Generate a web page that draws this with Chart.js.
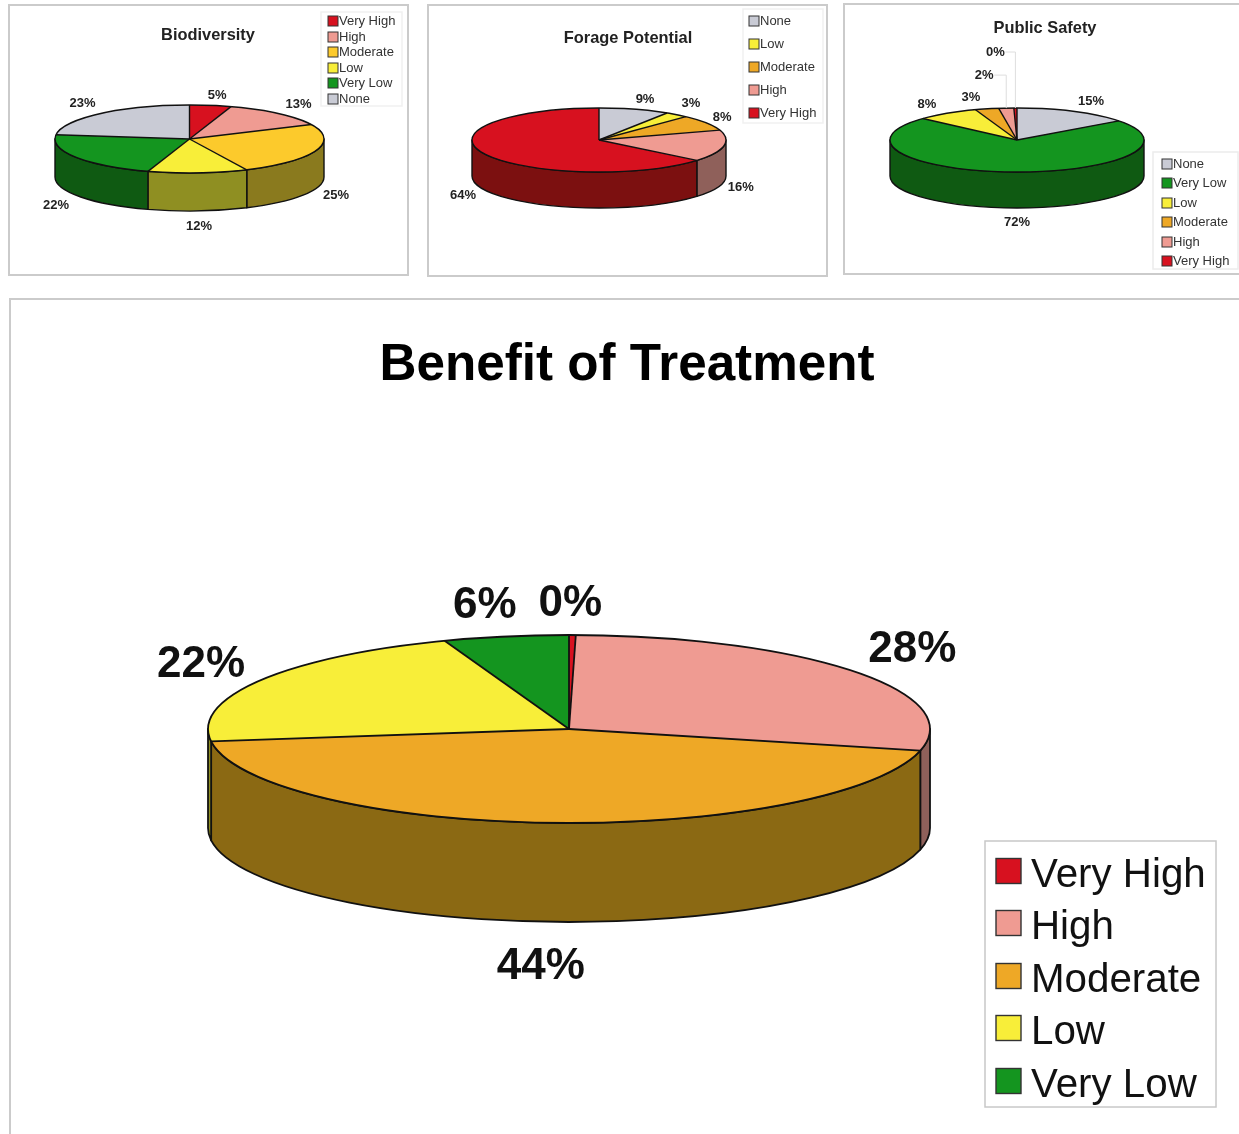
<!DOCTYPE html>
<html>
<head>
<meta charset="utf-8">
<script src="https://cdn.jsdelivr.net/npm/chart.js@4"></script>
<style>
html,body{margin:0;padding:0;background:#fff;width:1239px;height:1134px;overflow:hidden}
.panel{position:absolute;box-sizing:border-box;border:2px solid #cbcbcb;background:#fff}
canvas{position:absolute;left:-2px;top:-2px}
</style>
</head>
<body>
<script>
// ---- data ----
const bioLabels = ["Very High","High","Moderate","Low","Very Low","None"];
const bioValues = [5,13,25,12,22,23];
const forageLabels = ["None","Low","Moderate","High","Very High"];
const forageValues = [9,3,8,16,64];
const safetyLabels = ["None","Very Low","Low","Moderate","High","Very High"];
const safetyValues = [14.8,71.9,8,3,1.9,0.4];
const benefitLabels = ["Very High","High","Moderate","Low","Very Low"];
const benefitValues = [0.3,28.4,44.2,21.5,5.6];

// ---- styling ----
const TOP = {"Very High":"#d7111f","High":"#ef9b92","Moderate":"#eea826","Low":"#f8ee39","Very Low":"#14951f","None":"#c9cbd5"};
const WALL = {"Very High":"#7c1010","High":"#8f605a","Moderate":"#8b6913","Low":"#8f8f22","Very Low":"#0f5a12","None":"#6f7076"};
const BIO_TOP = {...TOP,"Moderate":"#fcca2c"};
const BIO_WALL = {...WALL,"Moderate":"#8a7a1e"};
const F = '"Liberation Sans", Arial, sans-serif';

const charts = [
 {labels:bioLabels,values:bioValues,top:BIO_TOP,wall:BIO_WALL,
  panel:[8,4,401,272],cx:189.5,cy:139,rx:134.5,ry:34,depth:38,line:1.4,
  title:{text:"Biodiversity",x:208,y:35,font:"bold 16.4px "+F,color:"#222"},
  labelFont:"bold 13px "+F,labelColor:"#222",labelDy:0,
  offsets:[[6.5,-10],[20,-9.5],[20,6.5],[1,15],[-20,10],[-18,-10.5]],
  legend:{box:[321,12,81,94],sx:328,size:10,tx:339,ys:[21,37,52,68,83,99],font:"13px "+F,color:"#333",border:"#f1f1f1",swLine:1,textDy:0}},
 {labels:forageLabels,values:forageValues,top:TOP,wall:WALL,
  panel:[427,4,401,273],cx:599,cy:140,rx:127,ry:32,depth:36,line:1.4,
  title:{text:"Forage Potential",x:628,y:38,font:"bold 16.4px "+F,color:"#222"},
  labelFont:"bold 13px "+F,labelColor:"#222",labelDy:0,
  offsets:[[10.6,-10],[14,-11],[16,-5],[17,5],[-21,6]],
  legend:{box:[743,9,80,114],sx:749,size:10,tx:760,ys:[21,44,67,90,113],font:"13px "+F,color:"#333",border:"#f1f1f1",swLine:1,textDy:0}},
 {labels:safetyLabels,values:safetyValues,top:TOP,wall:WALL,
  panel:[843,3,398,272],cx:1017,cy:140,rx:127,ry:32,depth:36,line:1.4,
  title:{text:"Public Safety",x:1045,y:28,font:"bold 16.4px "+F,color:"#222"},
  labelFont:"bold 13px "+F,labelColor:"#222",labelDy:0,
  offsets:[[17,-10],[6,14],[-20,-9],[-16,-11],[-22,-33],[-20,-56]],
  leaders:[4,5],
  legend:{box:[1153,152,85,117],sx:1162,size:10,tx:1173,ys:[164,183,203,222,242,261],font:"13px "+F,color:"#333",border:"#ececec",swLine:1,textDy:0}},
 {labels:benefitLabels,values:benefitValues,top:TOP,wall:WALL,
  panel:[9,298,1232,842],cx:569,cy:729,rx:361,ry:94,depth:99,line:1.8,
  title:{text:"Benefit of Treatment",x:627,y:366,font:"bold 51.2px "+F,color:"#000"},
  labelFont:"bold 44px "+F,labelColor:"#111",labelDy:2,
  offsets:[[-2,-33],[58,-24],[-10,43],[-59,-18],[-21,-33]],
  legend:{box:[985,841,231,266],sx:996,size:25,tx:1031,ys:[871,923,976,1028,1081],font:"40.3px "+F,color:"#111",border:"#c8c8c8",swLine:1.4,textDy:5}}
];

// ---- 3D look: flatten the arcs Chart.js lays out, add side walls, outlines, labels, legend ----
const pie3d = {
 id:"pie3d",
 beforeDatasetDraw(chart,args,o){
  const arcs = args.meta.data, ctx = chart.ctx, c = o.cfg;
  const k = c.ry/c.rx;
  const {x:cx,y:cy,outerRadius:R} = arcs[0];
  const ry = R*k;
  ctx.save();
  ctx.lineWidth = c.line; ctx.strokeStyle = "#111"; ctx.lineJoin = "round";
  arcs.forEach((a,i)=>{
   const s = Math.max(a.startAngle,0), e = Math.min(a.endAngle,Math.PI);
   if(e<=s) return;
   ctx.beginPath();
   ctx.ellipse(cx,cy,R,ry,0,s,e);
   ctx.ellipse(cx,cy+c.depth,R,ry,0,e,s,true);
   ctx.closePath();
   ctx.fillStyle = c.wall[c.labels[i]];
   ctx.fill(); ctx.stroke();
  });
  ctx.restore();
  ctx.save();
  ctx.translate(0,cy); ctx.scale(1,k); ctx.translate(0,-cy);
 },
 afterDatasetDraw(chart,args,o){
  const arcs = args.meta.data, ctx = chart.ctx, c = o.cfg;
  ctx.restore();
  const k = c.ry/c.rx;
  const {x:cx,y:cy,outerRadius:R} = arcs[0];
  const ry = R*k;
  ctx.save();
  ctx.lineWidth = c.line; ctx.strokeStyle = "#111";
  arcs.forEach(a=>{
   ctx.beginPath();
   ctx.moveTo(cx+R*Math.cos(a.startAngle),cy+ry*Math.sin(a.startAngle));
   ctx.lineTo(cx,cy);
   ctx.stroke();
  });
  ctx.beginPath(); ctx.ellipse(cx,cy,R,ry,0,0,Math.PI*2); ctx.stroke();
  ctx.restore();
 },
 afterDraw(chart,args,o){
  const c = o.cfg, ctx = chart.ctx, arcs = chart.getDatasetMeta(0).data;
  const ox = c.panel[0], oy = c.panel[1];
  const k = c.ry/c.rx;
  const {x:cx,y:cy,outerRadius:R} = arcs[0];
  const ry = R*k;
  ctx.save();
  // title
  ctx.textAlign="center"; ctx.textBaseline="middle";
  ctx.font=c.title.font; ctx.fillStyle=c.title.color;
  ctx.fillText(c.title.text,c.title.x-ox,c.title.y-oy);
  // percent labels
  ctx.font=c.labelFont; ctx.fillStyle=c.labelColor;
  arcs.forEach((a,i)=>{
   const m=(a.startAngle+a.endAngle)/2, sn=Math.sin(m);
   const px=cx+R*Math.cos(m), py=cy+ry*sn+(sn>0?c.depth:0);
   const lx=px+c.offsets[i][0], ly=py+c.offsets[i][1]+c.labelDy;
   if(c.leaders&&c.leaders.includes(i)){
    ctx.save();
    ctx.strokeStyle="#dedede"; ctx.lineWidth=1;
    ctx.beginPath();
    ctx.moveTo(lx+10,ly); ctx.lineTo(px,ly); ctx.lineTo(px,py);
    ctx.stroke();
    ctx.restore();
   }
   ctx.fillText(Math.round(c.values[i])+"%",lx,ly);
  });
  // legend
  const L=c.legend;
  ctx.fillStyle="#fff"; ctx.strokeStyle=L.border; ctx.lineWidth=1.5;
  ctx.fillRect(L.box[0]-ox,L.box[1]-oy,L.box[2],L.box[3]);
  ctx.strokeRect(L.box[0]-ox,L.box[1]-oy,L.box[2],L.box[3]);
  ctx.textAlign="left"; ctx.font=L.font;
  c.labels.forEach((lab,i)=>{
   const y=L.ys[i]-oy;
   ctx.fillStyle=c.top[lab]; ctx.strokeStyle="#333"; ctx.lineWidth=L.swLine;
   ctx.fillRect(L.sx-ox,y-L.size/2,L.size,L.size);
   ctx.strokeRect(L.sx-ox,y-L.size/2,L.size,L.size);
   ctx.fillStyle=L.color;
   ctx.fillText(lab,L.tx-ox,y+L.textDy);
  });
  ctx.restore();
 }
};

charts.forEach(c=>{
 const [px,py,pw,ph]=c.panel;
 const div=document.createElement("div");
 div.className="panel";
 div.style.cssText=`left:${px}px;top:${py}px;width:${pw}px;height:${ph}px`;
 const cv=document.createElement("canvas");
 cv.width=pw; cv.height=ph;
 cv.style.width=pw+"px"; cv.style.height=ph+"px";
 div.appendChild(cv);
 document.body.appendChild(div);
 new Chart(cv.getContext("2d"),{
  type:"pie",
  data:{labels:c.labels,datasets:[{data:c.values,backgroundColor:c.labels.map(l=>c.top[l]),borderWidth:0,clip:false}]},
  options:{
   responsive:false,animation:false,
   layout:{padding:{left:c.cx-c.rx-px,right:px+pw-c.cx-c.rx,top:c.cy-c.rx-py,bottom:py+ph-c.cy-c.rx}},
   plugins:{legend:{display:false},title:{display:false},tooltip:{enabled:false},pie3d:{cfg:c}}
  },
  plugins:[pie3d]
 });
});
</script>
</body>
</html>
